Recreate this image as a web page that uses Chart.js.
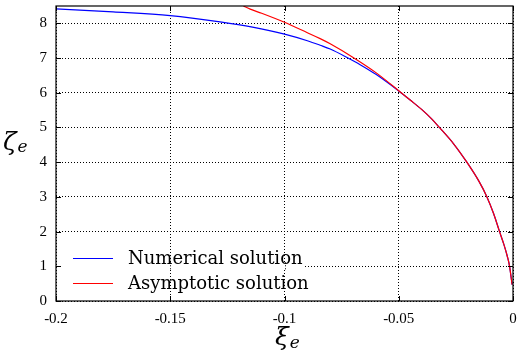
<!DOCTYPE html>
<html>
<head>
<meta charset="utf-8">
<script src="https://cdn.jsdelivr.net/npm/chart.js@4.4.1/dist/chart.umd.min.js"></script>
<style>
  html, body { margin: 0; padding: 0; background: #fff; }
  #wrap { width: 518px; height: 362px; position: relative; }
</style>
</head>
<body>
<div id="wrap"><canvas id="c" width="518" height="362"></canvas></div>
<script>
// ---- data ----
const seriesNames = ["Numerical solution", "Asymptotic solution"];
const xiNum   = [-0.2, -0.175, -0.15, -0.1282, -0.114, -0.1, -0.09, -0.0844, -0.08, -0.0722, -0.0669, -0.06, -0.05, -0.045, -0.04, -0.0355, -0.0322, -0.026, -0.0202, -0.015, -0.0114, -0.0085, -0.006, -0.004, -0.0025, -0.0015, -0.0004];
const zetaNum = [8.42, 8.33, 8.22, 8.04, 7.89, 7.69, 7.50, 7.37, 7.26, 7.00, 6.81, 6.53, 6.05, 5.79, 5.52, 5.24, 5.00, 4.53, 4.00, 3.46, 3.00, 2.52, 2.02, 1.63, 1.29, 1.00, 0.47];
const xiAsy   = [-0.118, -0.115, -0.11, -0.1, -0.09, -0.0844, -0.08, -0.0698, -0.06, -0.05, -0.045, -0.04, -0.0355, -0.0322, -0.026, -0.0202, -0.015, -0.0114, -0.0085, -0.006, -0.004, -0.0025, -0.0015, -0.0004];
const zetaAsy = [8.50, 8.41, 8.29, 8.03, 7.73, 7.56, 7.41, 7.01, 6.58, 6.06, 5.79, 5.52, 5.24, 5.00, 4.53, 4.00, 3.46, 3.00, 2.52, 2.02, 1.63, 1.29, 1.00, 0.47];
const xTicks = [-0.2, -0.15, -0.1, -0.05, 0];
const xTickLabels = ["-0.2", "-0.15", "-0.1", "-0.05", "0"];
const yTicks = [0, 1, 2, 3, 4, 5, 6, 7, 8];
const yTickLabels = ["0", "1", "2", "3", "4", "5", "6", "7", "8"];
const xTitle = ["ξ", "e"];
const yTitle = ["ζ", "e"];

const toPts = (xs, ys) => xs.map((x, i) => ({ x: x, y: ys[i] }));

const frame = {
  id: 'frame',
  beforeDatasetsDraw(chart) {
    const { ctx, chartArea: a, scales } = chart;
    const gy = scales.y.getPixelForValue(1);
    ctx.save();
    ctx.fillStyle = '#fff';
    ctx.fillRect(a.left + 1, gy - 3, 302 - a.left, 6);
    ctx.strokeStyle = '#000';
    ctx.lineWidth = 1;
    ctx.setLineDash([1, 2]);
    ctx.beginPath();
    xTicks.forEach(v => {
      const px = Math.round(scales.x.getPixelForValue(v)) + 0.5;
      if (px > a.left + 2 && px < 302) { ctx.moveTo(px, gy - 4); ctx.lineTo(px, gy + 4); }
    });
    ctx.stroke();
    ctx.restore();
  },
  afterDatasetsDraw(chart) {
    const { ctx, chartArea: a, scales } = chart;
    ctx.save();
    ctx.strokeStyle = '#000';
    ctx.lineWidth = 1.2;
    ctx.strokeRect(a.left, a.top, a.right - a.left, a.bottom - a.top);
    ctx.lineWidth = 1;
    ctx.beginPath();
    xTicks.forEach(v => {
      const px = Math.round(scales.x.getPixelForValue(v)) + 0.5;
      ctx.moveTo(px, a.bottom); ctx.lineTo(px, a.bottom - 5);
      ctx.moveTo(px, a.top); ctx.lineTo(px, a.top + 5);
    });
    yTicks.forEach(v => {
      const py = Math.round(scales.y.getPixelForValue(v)) + 0.5;
      ctx.moveTo(a.left, py); ctx.lineTo(a.left + 5, py);
      ctx.moveTo(a.right, py); ctx.lineTo(a.right - 5, py);
    });
    ctx.stroke();
    // legend
    const ds = chart.data.datasets;
    ctx.font = '18px "DejaVu Serif"';
    ctx.fillStyle = '#000';
    ctx.textBaseline = 'alphabetic';
    const rows = [258, 283];
    [0, 1].forEach(i => {
      const y = rows[i] + 0.5;
      ctx.strokeStyle = ds[i].borderColor;
      ctx.lineWidth = 1.2;
      ctx.beginPath(); ctx.moveTo(73, y); ctx.lineTo(113, y); ctx.stroke();
      ctx.fillText(ds[i].label, 128, rows[i] + 6);
    });
    // axis titles with subscripts
    ctx.font = 'italic 25px "DejaVu Serif"';
    ctx.fillText(yTitle[0], 3, 150);
    const w1 = ctx.measureText(yTitle[0]).width;
    ctx.font = 'italic 17px "DejaVu Serif"';
    ctx.fillText(yTitle[1], 3 + w1 + 1, 152);
    ctx.font = 'italic 25px "DejaVu Serif"';
    ctx.fillText(xTitle[0], 275, 345);
    const w2 = ctx.measureText(xTitle[0]).width;
    ctx.font = 'italic 17px "DejaVu Serif"';
    ctx.fillText(xTitle[1], 275 + w2 + 1, 348);
    ctx.restore();
  }
};

new Chart(document.getElementById('c'), {
  type: 'scatter',
  data: {
    datasets: [
      { label: seriesNames[0], data: toPts(xiNum, zetaNum), showLine: true, borderColor: '#0000ff', borderWidth: 1.2, pointRadius: 0, cubicInterpolationMode: 'monotone', order: 2 },
      { label: seriesNames[1], data: toPts(xiAsy, zetaAsy), showLine: true, borderColor: '#ff0000', borderWidth: 1.2, pointRadius: 0, cubicInterpolationMode: 'monotone', order: 1 }
    ]
  },
  options: {
    responsive: false,
    animation: false,
    devicePixelRatio: 1,
    layout: { padding: { left: 0, right: 5, top: 6, bottom: 0 } },
    plugins: { legend: { display: false }, tooltip: { enabled: false } },
    scales: {
      x: {
        type: 'linear', min: -0.2, max: 0,
        afterBuildTicks: s => { s.ticks = xTicks.map(v => ({ value: v })); },
        afterFit: s => { s.height = 61; s.paddingLeft = 0; s.paddingRight = 0; },
        ticks: { color: '#000', padding: 9, font: { family: 'Liberation Serif', size: 15 }, maxRotation: 0,
                 callback: (v) => { const i = xTicks.findIndex(t => Math.abs(t - v) < 1e-9); return i >= 0 ? xTickLabels[i] : ''; } },
        grid: { color: '#000', lineWidth: 1, drawTicks: false },
        border: { display: false, dash: [1, 2] }
      },
      y: {
        type: 'linear', min: 0, max: 8.5,
        afterBuildTicks: s => { s.ticks = yTicks.map(v => ({ value: v })); },
        afterFit: s => { s.width = 56; s.paddingTop = 0; s.paddingBottom = 0; },
        ticks: { color: '#000', padding: 9, font: { family: 'Liberation Serif', size: 15 },
                 callback: (v) => { const i = yTicks.indexOf(v); return i >= 0 ? yTickLabels[i] : ''; } },
        grid: { color: '#000', lineWidth: 1, drawTicks: false },
        border: { display: false, dash: [1, 2] }
      }
    }
  },
  plugins: [frame]
});
</script>
</body>
</html>
